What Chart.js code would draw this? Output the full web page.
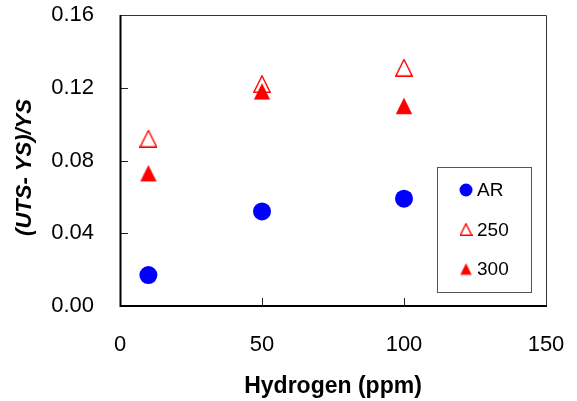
<!DOCTYPE html>
<html>
<head>
<meta charset="utf-8">
<script src="https://cdn.jsdelivr.net/npm/chart.js@4/dist/chart.umd.min.js"></script>
<style>
  html, body { margin: 0; padding: 0; background: #ffffff; }
  #wrap { width: 577px; height: 401px; }
</style>
</head>
<body>
<div id="wrap"><canvas id="chart" width="577" height="401"></canvas></div>
<script>
// Données
var hydrogen = [10, 50, 100];
var seriesNames = ["AR", "250", "300"];
var arValues = [0.017, 0.052, 0.059];
var t250Values = [0.092, 0.122, 0.131];
var t300Values = [0.073, 0.118, 0.110];
var yTicks = [0, 0.04, 0.08, 0.12, 0.16];
var xTicks = [0, 50, 100, 150];

var FONT = "'Liberation Sans', Arial, sans-serif";

// Triangle façon Excel (boîte carrée)
var makeTriangle = function (size, filled) {
  var c = document.createElement("canvas");
  c.width = size;
  c.height = size;
  var g = c.getContext("2d");
  g.beginPath();
  g.moveTo(size / 2, 0.8);
  g.lineTo(size - 0.8, size - 0.8);
  g.lineTo(0.8, size - 0.8);
  g.closePath();
  if (filled) {
    g.fillStyle = "#ff0000";
    g.fill();
  } else {
    g.fillStyle = "#ffffff";
    g.fill();
    g.strokeStyle = "#ff0000";
    g.lineWidth = 1.4;
    g.stroke();
  }
  return c;
};

var openTri = makeTriangle(18, false);
var fullTri = makeTriangle(18, true);
var openTriSmall = makeTriangle(13, false);
var fullTriSmall = makeTriangle(13, true);

var toPoints = function (values) {
  return values.map(function (v, i) { return { x: hydrogen[i], y: v }; });
};

// Cadre, graduations intérieures, titre Y et légende encadrée
var framePlugin = {
  id: "frame",
  afterDraw: function (chart) {
    var ctx = chart.ctx;
    var a = chart.chartArea;
    var xs = chart.scales.x;
    var ys = chart.scales.y;
    ctx.save();

    // haut et droite fins
    ctx.strokeStyle = "#333333";
    ctx.lineWidth = 1;
    ctx.beginPath();
    ctx.moveTo(a.left, a.top + 0.5);
    ctx.lineTo(a.right + 0.5, a.top + 0.5);
    ctx.lineTo(a.right + 0.5, a.bottom);
    ctx.stroke();

    // graduations
    ctx.strokeStyle = "#222222";
    ctx.beginPath();
    ys.ticks.forEach(function (t) {
      if (t.value <= ys.min || t.value >= ys.max) return;
      var y = Math.round(ys.getPixelForValue(t.value)) + 0.5;
      ctx.moveTo(a.left, y);
      ctx.lineTo(a.left + 8, y);
    });
    xs.ticks.forEach(function (t) {
      if (t.value <= xs.min || t.value >= xs.max) return;
      var x = Math.round(xs.getPixelForValue(t.value)) + 0.5;
      ctx.moveTo(x, a.bottom);
      ctx.lineTo(x, a.bottom - 8);
    });
    ctx.stroke();

    // axes gauche et bas épais
    ctx.strokeStyle = "#000000";
    ctx.lineWidth = 2;
    ctx.beginPath();
    ctx.moveTo(a.left + 0.5, a.top);
    ctx.lineTo(a.left + 0.5, a.bottom);
    ctx.lineTo(a.right + 1, a.bottom);
    ctx.stroke();

    // titre de l'axe Y
    ctx.save();
    ctx.translate(25, (a.top + a.bottom) / 2 + 7);
    ctx.rotate(-Math.PI / 2);
    ctx.font = "italic bold 22px " + FONT;
    ctx.fillStyle = "#000000";
    ctx.textAlign = "center";
    ctx.textBaseline = "middle";
    ctx.fillText("(UTS- YS)/YS", 0, 0);
    ctx.restore();

    // légende
    var bx = a.right - 109, by = a.top + 152, bw = 94, bh = 125;
    ctx.strokeStyle = "#555555";
    ctx.lineWidth = 1;
    ctx.strokeRect(bx + 0.5, by + 0.5, bw, bh);
    ctx.font = "19px " + FONT;
    ctx.fillStyle = "#000000";
    ctx.textBaseline = "middle";
    ctx.textAlign = "left";
    chart.data.datasets.forEach(function (ds, i) {
      var cy = by + 23 + i * 39.5;
      var cx = bx + 29;
      if (ds.legendMarker) {
        ctx.drawImage(ds.legendMarker, cx - 6.5, cy - 6.5);
      } else {
        ctx.beginPath();
        ctx.arc(cx, cy, 6.5, 0, Math.PI * 2);
        ctx.fillStyle = ds.backgroundColor;
        ctx.fill();
        ctx.fillStyle = "#000000";
      }
      ctx.fillText(ds.label, cx + 11, cy + 1);
    });
    ctx.restore();
  },
};

new Chart(document.getElementById("chart"), {
  type: "scatter",
  data: {
    datasets: [
      {
        label: seriesNames[0],
        data: toPoints(arValues),
        pointStyle: "circle",
        pointRadius: 9,
        pointHoverRadius: 9,
        backgroundColor: "#0000ff",
        borderColor: "#0000ff",
        borderWidth: 0,
        order: 2,
      },
      {
        label: seriesNames[1],
        data: toPoints(t250Values),
        pointStyle: openTri,
        legendMarker: openTriSmall,
        order: 1,
      },
      {
        label: seriesNames[2],
        data: toPoints(t300Values),
        pointStyle: fullTri,
        legendMarker: fullTriSmall,
        order: 0,
      },
    ],
  },
  options: {
    responsive: false,
    animation: false,
    events: [],
    layout: { padding: { left: 0, top: 15, right: 31, bottom: 0 } },
    plugins: {
      legend: { display: false },
      tooltip: { enabled: false },
    },
    scales: {
      x: {
        type: "linear",
        min: xTicks[0],
        max: xTicks[xTicks.length - 1],
        afterBuildTicks: function (s) {
          s.ticks = xTicks.map(function (v) { return { value: v }; });
        },
        afterFit: function (s) {
          s.height = 95;
          s.paddingLeft = 0;
          s.paddingRight = 0;
        },
        grid: { display: false, drawTicks: false },
        border: { display: false },
        ticks: {
          padding: 26,
          color: "#000000",
          font: { family: FONT, size: 22 },
          maxRotation: 0,
        },
        title: {
          display: true,
          text: "Hydrogen (ppm)",
          color: "#000000",
          font: { family: FONT, size: 23, weight: "bold" },
          padding: { top: 0, bottom: 1 },
        },
      },
      y: {
        type: "linear",
        min: yTicks[0],
        max: yTicks[yTicks.length - 1],
        afterBuildTicks: function (s) {
          s.ticks = yTicks.map(function (v) { return { value: v }; });
        },
        afterFit: function (s) {
          s.width = 120;
          s.paddingTop = 0;
          s.paddingBottom = 0;
        },
        grid: { display: false, drawTicks: false },
        border: { display: false },
        ticks: {
          padding: 26,
          color: "#000000",
          font: { family: FONT, size: 22 },
          callback: function (v) { return Number(v).toFixed(2); },
        },
        title: { display: false },
      },
    },
  },
  plugins: [framePlugin],
});
</script>
</body>
</html>
